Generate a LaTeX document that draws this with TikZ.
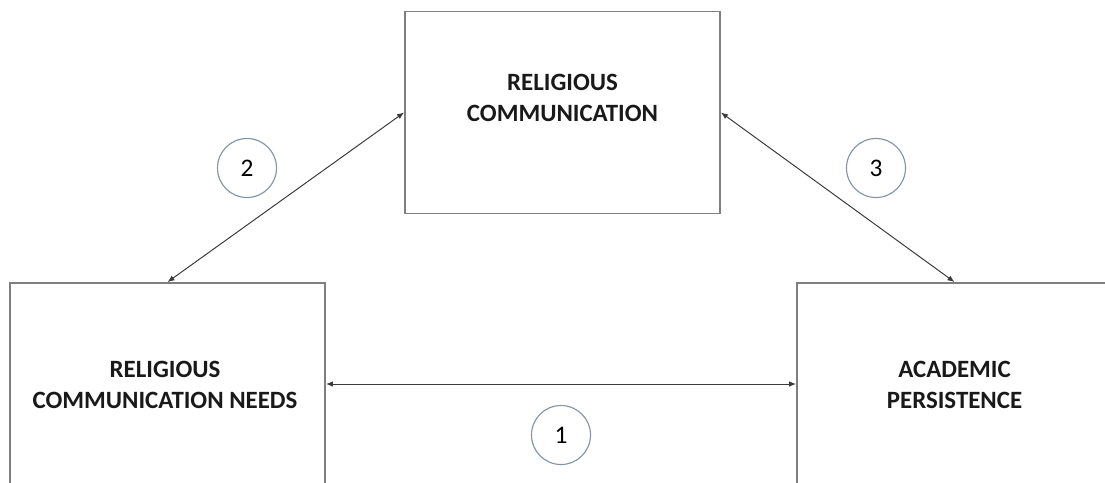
\documentclass[tikz,border=0pt]{standalone}
\usepackage{fontspec}
\setmainfont{Carlito}
\usetikzlibrary{arrows.meta}
\definecolor{boxgray}{HTML}{7F7F7F}
\definecolor{arrowgray}{HTML}{3A3A3A}
\definecolor{ringgray}{HTML}{8593A3}
\begin{document}
\begin{tikzpicture}[x=0.025cm, y=-0.025cm,
    box/.style={draw=boxgray, line width=1.3pt, minimum width=7.875cm, minimum height=5.05cm, inner sep=0pt},
    boxtext/.style={align=center, font=\fontsize{17.7}{22.5}\selectfont\bfseries, text=black!90},
    link/.style={draw=arrowgray, line width=0.7pt, {Latex[length=5pt,width=4pt]}-{Latex[length=5pt,width=4pt]}},
    ring/.style={circle, draw=ringgray, line width=0.8pt, minimum size=1.475cm, inner sep=0pt, font=\fontsize{18}{21}\selectfont}]
            \useasboundingbox (0, 0) rectangle (1105, 482);
            \clip (0, 0) rectangle (1105, 482);

            %%the three boxes
            \node[box] (relcom) at (562.5, 112.5){};
                \node[boxtext] (relcomtext) at (562.5, 98){RELIGIOUS\\COMMUNICATION};
            \node[box] (needs) at (167.5, 384){};
                \node[boxtext] (needstext) at (165, 385){RELIGIOUS\\COMMUNICATION NEEDS};
            \node[box] (persist) at (954.5, 384){};
                \node[boxtext] (persisttext) at (954.5, 385){ACADEMIC\\PERSISTENCE};

            %%draw the links
            \draw[link] (needs.east) to (persist.west);
            \draw[link] (relcom.west) to (needs.north);
            \draw[link] (relcom.east) to (persist.north);

            %%numbers
            \node[ring] (one) at (561, 435){1};
            \node[ring] (two) at (247, 168){2};
            \node[ring] (three) at (876, 168){3};
\end{tikzpicture}
\end{document}
